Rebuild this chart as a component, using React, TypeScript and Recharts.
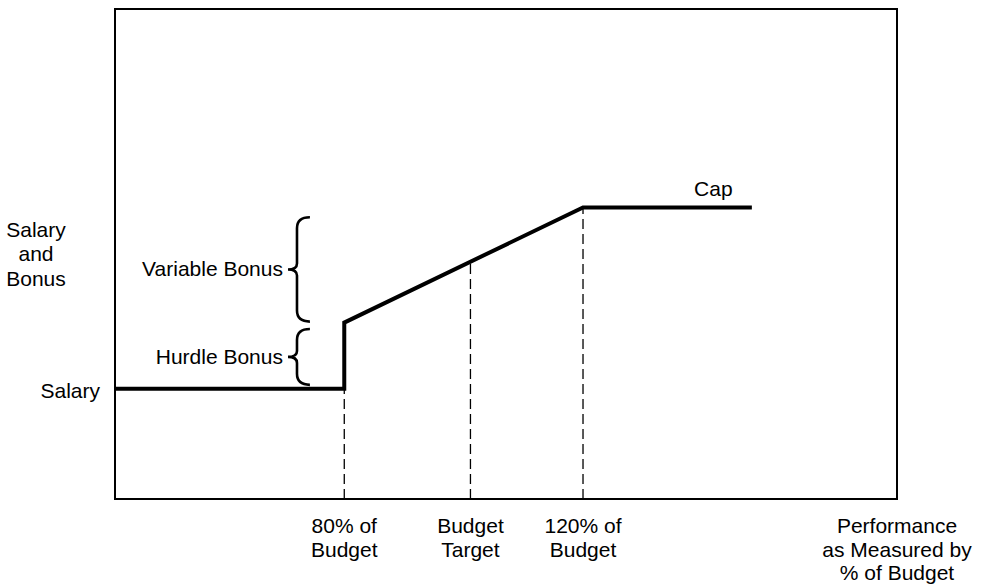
import React from 'react';
import { LineChart, Line, XAxis, YAxis, ReferenceArea, ReferenceLine, ReferenceDot } from 'recharts';

// Performance (% of budget) and pay level (arbitrary units)
const perfX = [41, 79.7, 79.7, 120, 148.5];
const payY = [22.5, 22.5, 36, 59.5, 59.5];

const xTicks = [79.7, 101, 120, 173];
const xTickLabels = [
  ['80% of', 'Budget'],
  ['Budget', 'Target'],
  ['120% of', 'Budget'],
  ['Performance', 'as Measured by', '% of Budget'],
];

const yTicks = [22.5, 49.5];
const yTickLabels = [['Salary'], ['Salary', 'and', 'Bonus']];

const guideX = [79.7, 101, 120];
const guideY = [36, 48.3, 59.5];

const braceLabels = ['Variable Bonus', 'Hurdle Bonus'];
const braceLow = [36.2, 23.3];
const braceHigh = [57.5, 34.7];
const braceX = [70.2, 73.9];

const capLabel = 'Cap';
const capX = 142;
const capY = 59.5;

const data = perfX.map((x, i) => ({ x, y: payY[i] }));

const FONT = '"Liberation Sans", Arial, Helvetica, sans-serif';
const FS = 21;

const XTick = (props: any) => {
  const { x, y, payload } = props;
  const idx = xTicks.indexOf(payload.value);
  const lines = idx >= 0 ? xTickLabels[idx] : [];
  return (
    <text x={x} y={y} textAnchor="middle" fontFamily={FONT} fontSize={FS} fill="#000">
      {lines.map((l, i) => (
        <tspan key={i} x={x} y={y + 34 + i * 23.5}>{l}</tspan>
      ))}
    </text>
  );
};

const YTick = (props: any) => {
  const { x, y, payload } = props;
  const idx = yTicks.indexOf(payload.value);
  const lines = idx >= 0 ? yTickLabels[idx] : [];
  if (lines.length === 1) {
    return (
      <text x={x - 15} y={y + 9} textAnchor="end" fontFamily={FONT} fontSize={FS} fill="#000">
        {lines[0]}
      </text>
    );
  }
  return (
    <text x={x - 79} y={y} textAnchor="middle" fontFamily={FONT} fontSize={FS} fill="#000">
      {lines.map((l, i) => (
        <tspan key={i} x={x - 79} y={y - 19.5 + i * 24.5}>{l}</tspan>
      ))}
    </text>
  );
};

const makeBrace = (label: string) => (props: any) => {
  const { x, y, width, height } = props;
  const xr = x + width;
  const xm = x + 9;
  const mid = y + height / 2;
  const r = 11;
  const d = `M ${xr} ${y} Q ${xm} ${y} ${xm} ${y + r} L ${xm} ${mid - 6} Q ${xm} ${mid} ${x} ${mid} Q ${xm} ${mid} ${xm} ${mid + 6} L ${xm} ${y + height - r} Q ${xm} ${y + height} ${xr} ${y + height}`;
  return (
    <g>
      <path d={d} fill="none" stroke="#000" strokeWidth={2.6} />
      <text x={x - 5} y={mid + 7} textAnchor="end" fontFamily={FONT} fontSize={FS} fill="#000">
        {label}
      </text>
    </g>
  );
};

export default function App() {
  return (
    <div style={{ position: 'absolute', left: 0, top: 0, width: 981, height: 585, background: '#fff' }}>
      <LineChart width={981} height={585} data={data} margin={{ top: 9, right: 84, bottom: 0, left: 0 }}>
        <XAxis
          dataKey="x"
          type="number"
          domain={[41, 173]}
          ticks={xTicks}
          allowDataOverflow
          axisLine={false}
          tickLine={false}
          tickSize={0}
          tickMargin={0}
          height={86}
          interval={0}
          tick={<XTick />}
        />
        <YAxis
          type="number"
          domain={[0, 100]}
          ticks={yTicks}
          allowDataOverflow
          axisLine={false}
          tickLine={false}
          tickSize={0}
          tickMargin={0}
          width={115}
          interval={0}
          tick={<YTick />}
        />
        {guideX.map((gx, i) => (
          <ReferenceLine
            key={i}
            segment={[{ x: gx, y: 0 }, { x: gx, y: guideY[i] }]}
            stroke="#000"
            strokeWidth={1.3}
            strokeDasharray="10 5"
          />
        ))}
        {braceLabels.map((lbl, i) => (
          <ReferenceArea
            key={i}
            x1={braceX[0]}
            x2={braceX[1]}
            y1={braceLow[i]}
            y2={braceHigh[i]}
            shape={makeBrace(lbl)}
          />
        ))}
        <Line
          dataKey="y"
          type="linear"
          stroke="#000"
          strokeWidth={4}
          dot={false}
          activeDot={false}
          isAnimationActive={false}
          strokeLinejoin="miter"
        />
        <ReferenceDot
          x={capX}
          y={capY}
          r={0}
          stroke="none"
          fill="none"
          label={{ value: capLabel, position: 'top', offset: 11, fontFamily: FONT, fontSize: FS, fill: '#000' }}
        />
        <ReferenceArea x1={41} x2={173} y1={0} y2={100} fill="none" fillOpacity={0} stroke="#000" strokeWidth={2} />
      </LineChart>
    </div>
  );
}
